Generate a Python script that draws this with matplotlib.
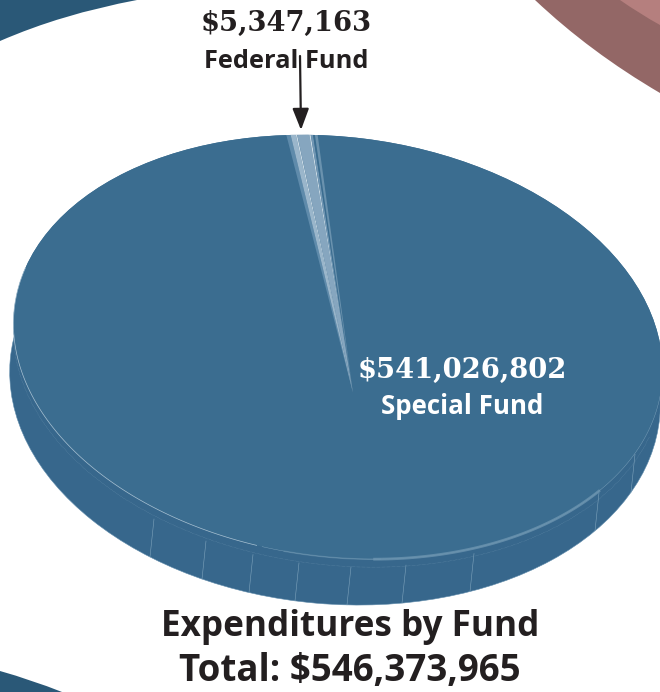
import numpy as np
import matplotlib
matplotlib.use("Agg")
import matplotlib.pyplot as plt
from matplotlib.patches import Ellipse, PathPatch
from matplotlib.path import Path

# visible slice widths in the picture, left to right (degrees at the apex)
slice_widths = [353.8, 0.9, 1.1, 0.3, 2.6, 0.3, 0.5, 0.4, 0.6]
slice_colors = ["#3b6d90", "#5f8bab", "#9ab6cb", "#c9d9e4", "#86a6bf", "#c9d9e4",
                "#7096b3", "#3b6d90", "#6a92ae"]
special_label = "$541,026,802"
special_name = "Special Fund"
federal_label = "$5,347,163"
federal_name = "Federal Fund"
title_lines = ["Expenditures by Fund", "Total: $546,373,965"]
# x where the thin lines meet the bottom edge of the side wall
side_seams = [150, 202, 249, 295, 347, 402, 470, 595, 631]

face_blue = "#3b6d90"
side_blue = "#37678c"
dark_blue = "#2a5877"
ink = "#231f20"
face_shape = dict(c=(338, 347), rx=326, ry=210, tilt=7)
side_shape = dict(c=(335, 388), rx=326, ry=216, tilt=5)

fig = plt.figure(figsize=(6.6, 6.92), dpi=100)
ax = fig.add_axes([0, 0, 1, 1])


def rim(shape, t, dy=0):
    t = np.radians(t)
    r = np.radians(shape["tilt"])
    x = shape["rx"] * np.cos(t)
    y = shape["ry"] * np.sin(t)
    return (shape["c"][0] + x * np.cos(r) - y * np.sin(r),
            shape["c"][1] + x * np.sin(r) + y * np.cos(r) + dy)


def swoosh(p0, p1, p2, corners, color):
    verts = [p0, p1, p2] + corners + [p0]
    codes = [Path.MOVETO, Path.CURVE3, Path.CURVE3] + [Path.LINETO] * len(corners) + [Path.CLOSEPOLY]
    ax.add_patch(PathPatch(Path(verts, codes), fc=color, ec="none", zorder=1))


def disc(shape, **kw):
    return Ellipse(shape["c"], 2 * shape["rx"], 2 * shape["ry"], angle=shape["tilt"], **kw)


# pie fan sits on the apex, cut to the top face
wedges, _ = ax.pie(slice_widths, colors=slice_colors, startangle=262.2, center=(353, 393),
                   radius=620, wedgeprops={"linewidth": 0})
ax.set_aspect("auto")
ax.set_xlim(0, 660)
ax.set_ylim(692, 0)
ax.set_frame_on(False)
ax.set_xticks([])
ax.set_yticks([])

swoosh((0, 41), (62, 14), (137, 0), [(0, 0)], dark_blue)
swoosh((0, 671), (32, 680), (62, 692), [(0, 692)], dark_blue)
swoosh((535, 0), (590, 52), (660, 93), [(660, 0)], "#936766")
swoosh((620, 0), (640, 14), (660, 25), [(660, 0)], "#b57f7e")

ax.add_patch(disc(side_shape, fc=side_blue, ec="#5f8bab", lw=0.4, zorder=2))
face = disc(face_shape, fc=face_blue, ec="none", zorder=3)
ax.add_patch(face)
for w in wedges:
    w.set_zorder(4)
    w.set_clip_on(True)
    w.set_clip_path(face)

# seams on the side wall
angles = np.arange(0, 181)
bottom_x, bottom_y = rim(side_shape, angles)
for x in side_seams:
    y = np.interp(x, bottom_x[::-1], bottom_y[::-1])
    ax.plot([x + 4, x], [y - 38, y], color="#7ea3bc", lw=0.4, zorder=5)

# rim lines and the soft highlight along the front
x, y = rim(face_shape, np.arange(100, 192))
ax.plot(x, y, color="#a9c2d3", lw=0.5, zorder=5)
x, y = rim(face_shape, np.arange(0, 100))
ax.plot(x, y, color="#7ea3bc", lw=0.3, zorder=5)
x, y = rim(face_shape, np.arange(12, 178), dy=8)
ax.plot(x, y, color="#7ea3bc", lw=0.3, ls=(0, (1, 2)), zorder=5)
x, y = rim(face_shape, np.arange(32, 80))
ax.plot(x, y, color="#6f97b2", lw=2.0, alpha=0.75, zorder=5)
x, y = rim(face_shape, np.arange(78, 96))
ax.plot(x, y, color="#6f97b2", lw=1.2, alpha=0.4, zorder=5)

ax.annotate("", xy=(301, 130), xytext=(300, 56), zorder=6,
            arrowprops=dict(arrowstyle="-|>,head_width=0.5,head_length=1.3", color=ink, lw=1.6,
                            shrinkA=0, shrinkB=0))

num = dict(family="DejaVu Serif", fontweight="bold", ha="center", va="center", zorder=7)
lab = dict(family="Open Sans", fontweight="bold", ha="center", va="center", zorder=7)
ax.text(286, 23, federal_label, color=ink, fontsize=19.7, **num)
ax.text(286, 61, federal_name, color=ink, fontsize=18.3, **lab)
ax.text(462, 370, special_label, color="white", fontsize=19.7, **num)
ax.text(462, 407, special_name, color="white", fontsize=18.6, **lab)
ax.text(350, 627, title_lines[0], color=ink, fontsize=25.3, **lab)
ax.text(350, 671, title_lines[1], color=ink, fontsize=26.5, **lab)

fig.savefig("out.png", dpi=100)
